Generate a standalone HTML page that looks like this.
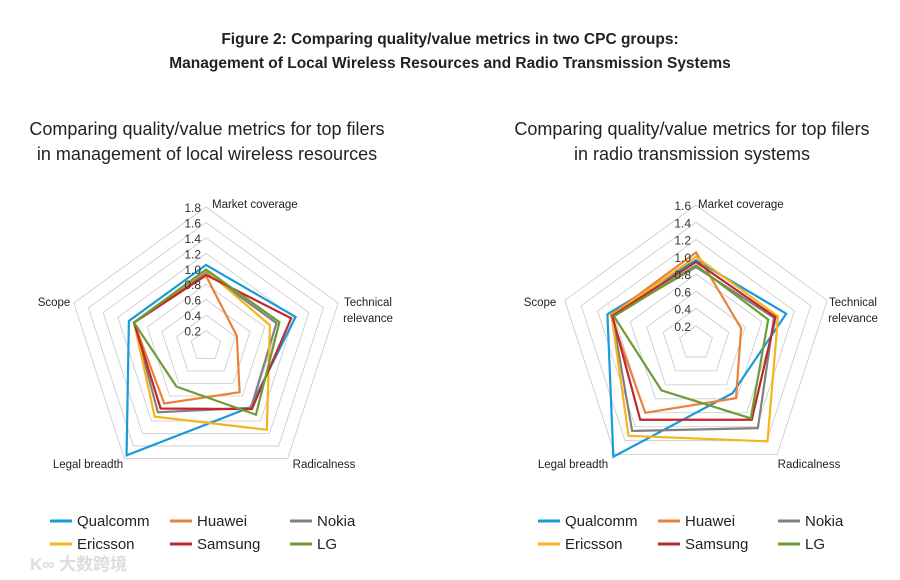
<!DOCTYPE html>
<html><head><meta charset="utf-8">
<style>
body{margin:0;background:#fff;width:900px;height:580px;overflow:hidden;font-family:"Liberation Sans","Noto Sans CJK SC",sans-serif;color:#222}
svg{position:absolute;left:0;top:0}
</style></head>
<body>
<svg id="chart" width="900" height="580">
<text x="450" y="44" text-anchor="middle" font-size="15.5" font-weight="bold" fill="#222">Figure 2: Comparing quality/value metrics in two CPC groups:</text>
<text x="450" y="68" text-anchor="middle" font-size="15.5" font-weight="bold" fill="#222">Management of Local Wireless Resources and Radio Transmission Systems</text>
<text x="207" y="135" text-anchor="middle" font-size="18" fill="#222">Comparing quality/value metrics for top filers</text>
<text x="207" y="160" text-anchor="middle" font-size="18" fill="#222">in management of local wireless resources</text>
<text x="692" y="135" text-anchor="middle" font-size="18" fill="#222">Comparing quality/value metrics for top filers</text>
<text x="692" y="160" text-anchor="middle" font-size="18" fill="#222">in radio transmission systems</text>
<text x="30" y="570" font-size="17" font-weight="bold" fill="#ddd">K∞ 大数跨境</text>
</svg>
<script>
const axes = ["Market coverage","Technical relevance","Radicalness","Legal breadth","Scope"];
const companies = ["Qualcomm","Huawei","Nokia","Ericsson","Samsung","LG"];
const colors = ["#1a9ad6","#e8823a","#808080","#f5b41c","#c0282d","#6e9b36"];
const leftTicks = ["0.2","0.4","0.6","0.8","1.0","1.2","1.4","1.6","1.8"];
const rightTicks = ["0.2","0.4","0.6","0.8","1.0","1.2","1.4","1.6"];
const leftQualcomm = [1.05,1.22,0.98,1.75,1.05];
const leftHuawei = [0.91,0.42,0.74,0.92,0.98];
const leftNokia = [0.96,0.96,0.99,1.06,0.98];
const leftEricsson = [0.98,0.87,1.34,1.13,0.98];
const leftSamsung = [0.92,1.16,1.01,1.0,0.98];
const leftLG = [0.99,1.0,1.1,0.65,0.98];
const rightQualcomm = [0.96,1.1,0.72,1.63,1.08];
const rightHuawei = [1.05,0.55,0.79,1.0,1.04];
const rightNokia = [0.88,0.95,1.22,1.26,1.02];
const rightEricsson = [1.0,1.0,1.41,1.33,1.03];
const rightSamsung = [0.94,0.97,1.1,1.1,1.02];
const rightLG = [0.9,0.88,1.08,0.68,1.0];

const NS="http://www.w3.org/2000/svg";
const svg=document.getElementById('chart');
function mk(tag,attrs,parent){const e=document.createElementNS(NS,tag);for(const k in attrs)e.setAttribute(k,attrs[k]);(parent||svg).appendChild(e);return e;}
function ang(i){return -Math.PI/2+i*2*Math.PI/5;}

function radar(prefix,cx,cy,R,ticks,series,labelPos){
  const max=parseFloat(ticks[ticks.length-1]);
  const g=mk('g',{});
  
  
  const rs=v=>v/max*R;
  const pt=(i,v)=>[cx+rs(v)*Math.cos(ang(i)),cy+rs(v)*Math.sin(ang(i))];
  ticks.forEach((t,k)=>{
    const v=parseFloat(t);
    const p=axes.map((a,i)=>pt(i,v).join(',')).join(' ');
    const ring=mk('polygon',{points:p,fill:'none',stroke:'#c8c8c8','stroke-width':0.8},g);
    
    
  });
  series.forEach((vals,s)=>{
    const p=vals.map((v,i)=>pt(i,v).join(',')).join(' ');
    const poly=mk('polygon',{points:p,fill:'none',stroke:colors[s],'stroke-width':2.2,'stroke-linejoin':'miter'},g);
    
    
  });
  ticks.forEach(t=>{
    const v=parseFloat(t);
    const tx=mk('text',{x:cx-5,y:cy-rs(v)+5,'text-anchor':'end','font-size':12,fill:'#333'},g);
    tx.textContent=t;
    
    
  });
  axes.forEach((a,i)=>{
    const lp=labelPos[i];
    lp.lines.forEach((ln,j)=>{
      const tx=mk('text',{x:lp.x,y:lp.y+j*16,'text-anchor':lp.anchor,'font-size':11.5,fill:'#222'},g);
      tx.textContent=ln;
      
      
    });
  });
}

radar('left',206,346,139,leftTicks,[leftQualcomm,leftHuawei,leftNokia,leftEricsson,leftSamsung,leftLG],[
  {x:212,y:208,anchor:'start',lines:['Market coverage']},
  {x:368,y:306,anchor:'middle',lines:['Technical','relevance']},
  {x:324,y:468,anchor:'middle',lines:['Radicalness']},
  {x:88,y:468,anchor:'middle',lines:['Legal breadth']},
  {x:54,y:306,anchor:'middle',lines:['Scope']}
]);
radar('right',696,343,138,rightTicks,[rightQualcomm,rightHuawei,rightNokia,rightEricsson,rightSamsung,rightLG],[
  {x:698,y:208,anchor:'start',lines:['Market coverage']},
  {x:853,y:306,anchor:'middle',lines:['Technical','relevance']},
  {x:809,y:468,anchor:'middle',lines:['Radicalness']},
  {x:573,y:468,anchor:'middle',lines:['Legal breadth']},
  {x:540,y:306,anchor:'middle',lines:['Scope']}
]);

function legend(prefix,x0){
  const cols=[x0,x0+120,x0+240];
  companies.forEach((c,i)=>{
    const col=cols[i%3], y=i<3?521:544;
    const g=mk('g',{});
    
    
    mk('line',{x1:col,y1:y,x2:col+22,y2:y,stroke:colors[i],'stroke-width':3},g);
    const t=mk('text',{x:col+27,y:y+5,'font-size':15,fill:'#222'},g);
    t.textContent=c;
  });
}
legend('left',50);
legend('right',538);
</script>
</body></html>
